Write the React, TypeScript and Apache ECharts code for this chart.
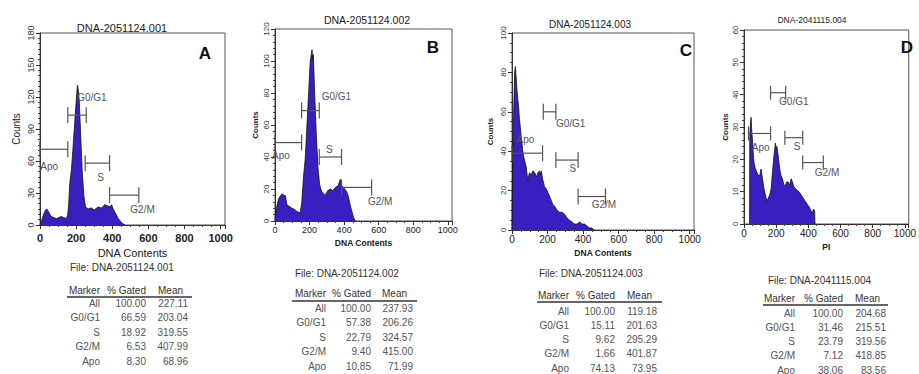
import React, { useEffect, useRef } from "react";
import * as echarts from "echarts";

// ---------- DATA ----------
const titles = ["DNA-2051124.001", "DNA-2051124.002", "DNA-2051124.003", "DNA-2041115.004"];
const letters = ["A", "B", "C", "D"];
const xNames = ["DNA Contents", "DNA Contents", "DNA Contents", "PI"];
const yName = "Counts";
const xTickValues = [0, 200, 400, 600, 800, 1000];

const histA: [number, number][] = [
  [0, 0], [7, 3], [20, 10], [30, 14], [38, 15], [45, 13], [55, 10], [63, 8], [75, 7], [91, 6], [105, 7],
  [118, 8], [130, 7], [146, 6], [153, 9], [159, 20], [165, 39], [174, 52], [183, 73], [193, 98], [202, 120],
  [207, 131], [211, 128], [217, 117], [224, 89], [233, 52], [243, 27], [252, 17], [265, 15], [285, 16],
  [300, 14], [322, 17], [340, 16], [359, 19], [375, 18], [387, 17], [396, 19], [405, 15], [415, 12],
  [433, 6], [452, 2], [470, 0],
];
const histB: [number, number][] = [
  [0, 0], [2, 4], [12, 10], [21, 14], [40, 17], [52, 16], [60, 16], [69, 10], [85, 9], [98, 8], [115, 7],
  [127, 6], [146, 5], [155, 12], [166, 29], [175, 39], [185, 60], [195, 81], [204, 100], [210, 104],
  [214, 107], [218, 101], [222, 104], [229, 81], [239, 54], [249, 33], [258, 23], [265, 20], [272, 18],
  [291, 16], [305, 19], [320, 20], [335, 19], [349, 21], [365, 22], [378, 26], [385, 22], [397, 21],
  [416, 18], [425, 15], [435, 10], [445, 6], [455, 2], [465, 0],
];
const histC: [number, number][] = [
  [0, 0], [3, 30], [6, 46], [12, 70], [15, 80], [19, 83], [23, 78], [28, 71], [33, 66], [37, 63], [42, 56],
  [47, 52], [52, 47], [56, 44], [61, 40], [66, 37], [72, 35], [80, 32], [85, 28], [90, 25], [95, 28],
  [99, 29], [108, 28], [118, 30], [128, 29], [137, 27], [146, 29], [155, 30], [160, 28], [165, 30],
  [172, 26], [183, 22], [192, 21], [202, 19], [212, 17], [221, 15], [230, 13], [240, 12], [254, 10],
  [268, 9], [282, 9], [296, 8], [310, 6], [324, 5], [338, 4], [352, 3], [366, 3], [380, 4], [395, 3],
  [408, 3], [422, 2], [437, 1], [450, 1], [461, 0],
];
const histD: [number, number][] = [
  [35, 0], [36, 27], [40, 31], [44, 33], [49, 28], [53, 26], [57, 22], [62, 19], [71, 17], [80, 16],
  [89, 15], [98, 15], [106, 17], [115, 14], [124, 11], [133, 9], [142, 7], [151, 8], [160, 9], [169, 11],
  [177, 16], [186, 21], [191, 23], [195, 25], [200, 23], [204, 24], [213, 21], [222, 17], [230, 15],
  [239, 14], [248, 12], [257, 12], [266, 13], [275, 13], [284, 12], [293, 14], [301, 13], [310, 11.5],
  [319, 11], [328, 10.5], [342, 10], [355, 9], [368, 8], [381, 7], [395, 6], [408, 5], [417, 4],
  [426, 3.3], [430, 4.5], [435, 4.5], [439, 4], [441, 0],
];

// gates: [name, from, to, level]
const gatesA: [string, number, number, number][] = [
  ["G0/G1", 154, 256, 103], ["Apo", 0, 154, 71], ["S", 250, 385, 58], ["G2/M", 385, 547, 28],
];
const gatesB: [string, number, number, number][] = [
  ["G0/G1", 154, 256, 69], ["Apo", 0, 154, 49], ["S", 256, 385, 40], ["G2/M", 385, 559, 21],
];
const gatesC: [string, number, number, number][] = [
  ["G0/G1", 176, 247, 60], ["Apo", 0, 172, 39], ["S", 247, 372, 35.5], ["G2/M", 372, 526, 17],
];
const gatesD: [string, number, number, number][] = [
  ["G0/G1", 165, 259, 40.6], ["Apo", 28, 165, 28], ["S", 254, 365, 26.7], ["G2/M", 365, 493, 19],
];
// gate label anchors (left edge), data units: [channel, count]
const gateLabelsA: [number, number][] = [[206, 120], [2, 55], [317, 45], [500, 15]];
const gateLabelsB: [number, number][] = [[270, 78], [-17, 41], [295, 45], [538, 12]];
const gateLabelsC: [number, number][] = [[247, 54], [26, 46], [323, 31], [448, 13]];
const gateLabelsD: [number, number][] = [[218, 37.8], [48, 23.6], [309, 24], [440, 16]];

// tables
const fileNames = [
  "File: DNA-2051124.001", "File: DNA-2051124.002", "File: DNA-2051124.003", "File: DNA-2041115.004",
];
const tableHeaders = ["Marker", "% Gated", "Mean"];
const markers = ["All", "G0/G1", "S", "G2/M", "Apo"];
const gatedA = [100.0, 66.59, 18.92, 6.53, 8.3];
const meanA = [227.11, 203.04, 319.55, 407.99, 68.96];
const gatedB = [100.0, 57.38, 22.79, 9.4, 10.85];
const meanB = [237.93, 206.26, 324.57, 415.0, 71.99];
const gatedC = [100.0, 15.11, 9.62, 1.66, 74.13];
const meanC = [119.18, 201.63, 295.29, 401.87, 73.95];
const gatedD = [100.0, 31.46, 23.79, 7.12, 38.06];
const meanD = [204.68, 215.51, 319.56, 418.85, 83.56];

const yMaxes = [180, 120, 100, 60];
const yIntervals = [30, 20, 20, 10];

// ---------- LAYOUT / STYLE ----------
const FONT = "'Liberation Sans', Arial, sans-serif";
const FILL = "#3a1fc0";

const panels = [
  {
    hist: histA, gates: gatesA, labels: gateLabelsA, gated: gatedA, mean: meanA,
    grid: { left: 40, top: 33, width: 185, height: 192 },
    yMinor: 6, xLabel: { fontSize: 11, fontWeight: "bold" as const, margin: 7 },
    yLabel: { fontSize: 9, margin: 5 }, yNameGap: 19, yNameStyle: { fontSize: 10, fontWeight: "normal" as const },
    xNameGap: 19, xNameStyle: { fontSize: 11, fontWeight: "normal" as const },
    title: { x: 122, y: 28, size: 11 }, letter: { x: 205, y: 53 },
    table: { fileX: 70, fileY: 267, headY: 290, lineY: 297, lx1: 67, lx2: 192, row0: 303, dy: 14.5, cM: 100, cG: 146, cMeanHead: 158, cMean: 188 },
    tick: 8,
  },
  {
    hist: histB, gates: gatesB, labels: gateLabelsB, gated: gatedB, mean: meanB,
    grid: { left: 275, top: 29, width: 177, height: 192 },
    yMinor: 5, xLabel: { fontSize: 9, fontWeight: "normal" as const, margin: 4 },
    yLabel: { fontSize: 8, margin: 5 }, yNameGap: 16, yNameStyle: { fontSize: 8, fontWeight: "bold" as const },
    xNameGap: 13, xNameStyle: { fontSize: 8.5, fontWeight: "bold" as const },
    title: { x: 367, y: 20, size: 10.5 }, letter: { x: 433, y: 47 },
    table: { fileX: 295, fileY: 273, headY: 293, lineY: 301, lx1: 292, lx2: 417, row0: 308, dy: 14.5, cM: 326, cG: 371, cMeanHead: 382, cMean: 413 },
    tick: 8,
  },
  {
    hist: histC, gates: gatesC, labels: gateLabelsC, gated: gatedC, mean: meanC,
    grid: { left: 512, top: 33, width: 182, height: 197 },
    yMinor: 4, xLabel: { fontSize: 10, fontWeight: "normal" as const, margin: 4 },
    yLabel: { fontSize: 8, margin: 5 }, yNameGap: 18, yNameStyle: { fontSize: 8, fontWeight: "bold" as const },
    xNameGap: 13, xNameStyle: { fontSize: 8.5, fontWeight: "bold" as const },
    title: { x: 590, y: 24, size: 10 }, letter: { x: 686, y: 50 },
    table: { fileX: 539, fileY: 273, headY: 295, lineY: 302, lx1: 537, lx2: 662, row0: 311, dy: 14.25, cM: 569, cG: 615, cMeanHead: 627, cMean: 657 },
    tick: 8,
  },
  {
    hist: histD, gates: gatesD, labels: gateLabelsD, gated: gatedD, mean: meanD,
    grid: { left: 744, top: 30, width: 193, height: 194 },
    yMinor: 5, xLabel: { fontSize: 10, fontWeight: "normal" as const, margin: 4 },
    yLabel: { fontSize: 7.5, margin: 5 }, yNameGap: 15, yNameStyle: { fontSize: 8, fontWeight: "bold" as const },
    xNameGap: 13, xNameStyle: { fontSize: 8.5, fontWeight: "bold" as const },
    title: { x: 812, y: 20, size: 8.5 }, letter: { x: 907, y: 47 },
    table: { fileX: 768, fileY: 280, headY: 298, lineY: 305, lx1: 763, lx2: 888, row0: 313, dy: 14.25, cM: 795, cG: 843, cMeanHead: 855, cMean: 886 },
    tick: 7,
  },
];

function txt(text: string, x: number, y: number, font: string, fill: string, align = "left") {
  return {
    type: "text",
    silent: true,
    z: 10,
    style: { text, x, y, font, fill, textAlign: align, align, textVerticalAlign: "middle", verticalAlign: "middle" },
  };
}

export default function App() {
  const ref = useRef<HTMLDivElement>(null);

  useEffect(() => {
    if (!ref.current) return;
    const chart = echarts.init(ref.current, undefined, { renderer: "svg" });

    const grids: any[] = [];
    const xAxes: any[] = [];
    const yAxes: any[] = [];
    const series: any[] = [];
    const graphics: any[] = [];

    panels.forEach((p, i) => {
      grids.push({ ...p.grid, show: true, borderColor: "#555", borderWidth: 1, backgroundColor: "transparent" });
      xAxes.push({
        type: "value", gridIndex: i, min: 0, max: 1024, interval: 200,
        axisLine: { show: true, onZero: false, lineStyle: { color: "#333", width: 1 } },
        axisTick: { show: true, length: 4, lineStyle: { color: "#333" } },
        minorTick: { show: true, splitNumber: 4, length: 2, lineStyle: { color: "#444" } },
        splitLine: { show: false },
        axisLabel: {
          color: "#222", fontFamily: FONT, ...p.xLabel,
          formatter: (v: number) => (xTickValues.includes(v) ? String(v) : ""),
        },
        name: xNames[i], nameLocation: "middle", nameGap: p.xNameGap,
        nameTextStyle: { color: "#222", fontFamily: FONT, ...p.xNameStyle },
      });
      yAxes.push({
        type: "value", gridIndex: i, min: 0, max: yMaxes[i], interval: yIntervals[i],
        axisLine: { show: true, onZero: false, lineStyle: { color: "#333", width: 1 } },
        axisTick: { show: true, length: 4, lineStyle: { color: "#333" } },
        minorTick: { show: true, splitNumber: p.yMinor, length: 2, lineStyle: { color: "#444" } },
        splitLine: { show: false },
        axisLabel: { rotate: 90, color: "#333", fontFamily: FONT, ...p.yLabel, formatter: (v: number) => String(v) },
        name: yName, nameLocation: "middle", nameGap: p.yNameGap,
        nameTextStyle: { color: "#222", fontFamily: FONT, ...p.yNameStyle },
      });
      series.push({
        type: "line", xAxisIndex: i, yAxisIndex: i, data: p.hist, symbol: "none", showSymbol: false,
        lineStyle: { color: "#111", width: 0.8 }, areaStyle: { color: FILL, opacity: 1 }, z: 2, silent: true,
      });
      const names = p.gates.map((g) => g[0]);
      const tickH = p.tick;
      series.push({
        type: "custom", xAxisIndex: i, yAxisIndex: i, z: 3, silent: true, clip: false,
        encode: { x: [0, 1], y: 2 },
        data: p.gates.map((g, k) => [g[1], g[2], g[3], p.labels[k][0], p.labels[k][1]]),
        renderItem: (params: any, api: any) => {
          const a = api.coord([api.value(0), api.value(2)]);
          const b = api.coord([api.value(1), api.value(2)]);
          const l = api.coord([api.value(3), api.value(4)]);
          const st = { stroke: "#555", lineWidth: 1.2 };
          return {
            type: "group",
            children: [
              { type: "line", shape: { x1: a[0], y1: a[1], x2: b[0], y2: b[1] }, style: st },
              { type: "line", shape: { x1: a[0], y1: a[1] - tickH, x2: a[0], y2: a[1] + tickH }, style: st },
              { type: "line", shape: { x1: b[0], y1: b[1] - tickH, x2: b[0], y2: b[1] + tickH }, style: st },
              {
                type: "text", x: l[0], y: l[1],
                style: {
                  text: names[params.dataIndex], fill: "#555", font: `10px ${FONT}`,
                  align: "left", verticalAlign: "middle", textAlign: "left", textVerticalAlign: "middle",
                },
              },
            ],
          };
        },
      });

      // titles & letters
      graphics.push(txt(titles[i], p.title.x, p.title.y, `${p.title.size}px ${FONT}`, "#222", "center"));
      graphics.push(txt(letters[i], p.letter.x, p.letter.y, `bold 17px ${FONT}`, "#111", "center"));

      // table
      const t = p.table;
      const f10 = `10px ${FONT}`;
      graphics.push(txt(fileNames[i], t.fileX, t.fileY, f10, "#333", "left"));
      graphics.push(txt(tableHeaders[0], t.cM, t.headY, f10, "#333", "right"));
      graphics.push(txt(tableHeaders[1], t.cG, t.headY, f10, "#333", "right"));
      graphics.push(txt(tableHeaders[2], t.cMeanHead, t.headY, f10, "#333", "left"));
      graphics.push({
        type: "line", silent: true, z: 10,
        shape: { x1: t.lx1, y1: t.lineY, x2: t.lx2, y2: t.lineY },
        style: { stroke: "#333", lineWidth: 1.5 },
      });
      markers.forEach((m, r) => {
        const y = t.row0 + r * t.dy;
        graphics.push(txt(m, t.cM, y, f10, "#555", "right"));
        graphics.push(txt(p.gated[r].toFixed(2), t.cG, y, f10, "#555", "right"));
        graphics.push(txt(p.mean[r].toFixed(2), t.cMean, y, f10, "#555", "right"));
      });
    });

    chart.setOption({
      animation: false,
      backgroundColor: "#ffffff",
      textStyle: { fontFamily: FONT },
      grid: grids,
      xAxis: xAxes,
      yAxis: yAxes,
      series,
      graphic: { elements: graphics },
    });

    return () => chart.dispose();
  }, []);

  return (
    <div
      ref={ref}
      style={{ position: "absolute", left: 0, top: 0, width: 919, height: 374, background: "#fff" }}
    />
  );
}
